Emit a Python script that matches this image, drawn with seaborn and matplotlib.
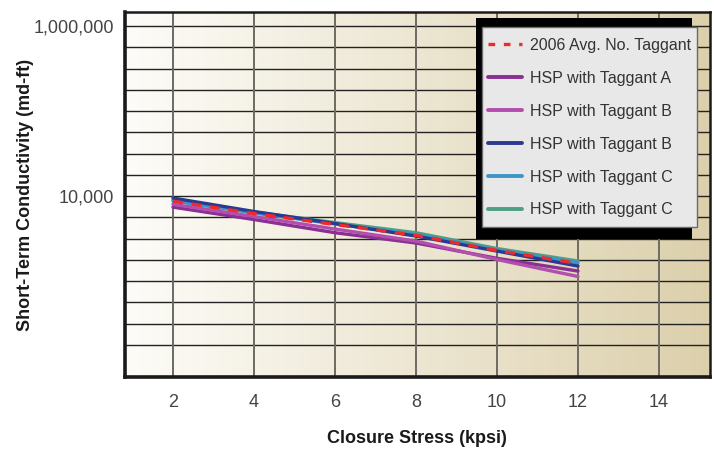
import numpy as np
import pandas as pd
import matplotlib.pyplot as plt
import matplotlib.patches as mpatches
from matplotlib.lines import Line2D
import seaborn as sns

# closure stress (kpsi)
stress = [2, 4, 6, 8, 10, 12]

# short-term conductivity (md-ft)
avg_2006 = [8700, 6220, 4620, 3450, 2290, 1610]
taggant_a = [7400, 5290, 3700, 2800, 1850, 1310]
taggant_b1 = [8000, 5740, 4090, 2950, 1790, 1130]
taggant_b2 = [9470, 6580, 4750, 3380, 2250, 1500]
taggant_c1 = [8730, 6310, 4690, 3520, 2320, 1640]
taggant_c2 = [8970, 6490, 4870, 3700, 2410, 1720]

labels = ["2006 Avg. No. Taggant", "HSP with Taggant A", "HSP with Taggant B",
          "HSP with Taggant B", "HSP with Taggant C", "HSP with Taggant C"]
colors = ["#ee2a2a", "#8a2f94", "#b24fae", "#2b3990", "#3d94c9", "#4e9f86"]

x_ticks = [2, 4, 6, 8, 10, 12, 14]
y_labels = {4.0: "10,000", 6.0: "1,000,000"}

sns.set_style("white")
plt.rcParams['font.family'] = ['Liberation Sans', 'DejaVu Sans']

fig = plt.figure(figsize=(7.15, 4.54), dpi=100)
ax = fig.add_axes([125/715, 1-377/454, 585/715, 365/454])

# background gradient white -> tan
grad = np.linspace(0, 1, 256)
c0 = np.array([253, 252, 248]) / 255
c1 = np.array([220, 208, 172]) / 255
img = c0[None, :] + (c1 - c0)[None, :] * grad[:, None]
ax.imshow(img[None, :, :], extent=[0, 1, 0, 1], transform=ax.transAxes,
          aspect='auto', zorder=0)

series = [avg_2006, taggant_a, taggant_b1, taggant_b2, taggant_c1, taggant_c2]
order = [5, 4, 3, 1, 2, 0]  # draw dashed average last
for i in order:
    df = pd.DataFrame({"stress": stress, "cond": series[i]})
    if i == 0:
        sns.lineplot(data=df, x="stress", y="cond", ax=ax, color=colors[i],
                     lw=2.4, linestyle=(0, (3, 2.6)), zorder=5)
    else:
        sns.lineplot(data=df, x="stress", y="cond", ax=ax, color=colors[i],
                     lw=2.4, zorder=4)

ax.set_yscale("log")
ax.set_xlim(0.815, 15.26)
ax.set_ylim(10**1.871, 10**6.165)

grid_exp = np.arange(2.25, 6.01, 0.25)
ax.set_yticks(10**grid_exp)
ax.set_yticklabels([y_labels.get(round(e, 2), "") for e in grid_exp])
ax.minorticks_off()
ax.set_xticks(x_ticks)
ax.set_xticklabels([str(t) for t in x_ticks])

for e in grid_exp:
    ax.axhline(10**e, color="#222222", lw=1.0, zorder=2)
for t in x_ticks:
    ax.axvline(t, color="#6e6a62", lw=1.4, zorder=2)

ax.tick_params(axis="both", length=0, labelsize=13, labelcolor="#444444")
ax.tick_params(axis="x", pad=12)
ax.tick_params(axis="y", pad=8)
for s in ax.spines.values():
    s.set_visible(True)
    s.set_color("#1a1a1a")
    s.set_linewidth(1.8)
ax.spines["left"].set_linewidth(2.6)
ax.spines["bottom"].set_linewidth(2.6)

ax.set_xlabel("Closure Stress (kpsi)", fontsize=13, fontweight="bold", color="#1a1a1a")
ax.set_ylabel("Short-Term Conductivity (md-ft)", fontsize=13, fontweight="bold", color="#1a1a1a")
ax.xaxis.set_label_coords(0.499, -0.145)
ax.yaxis.set_label_coords(-0.155, 0.5)

# legend box with black shadow
W, H = 715, 454
fig.patches.append(mpatches.Rectangle((476/W, 1-239/H), (692-476)/W, (239-18)/H,
                                      transform=fig.transFigure, facecolor="black",
                                      edgecolor="none", zorder=10))
fig.patches.append(mpatches.Rectangle((482/W, 1-227/H), (697-482)/W, (227-27)/H,
                                      transform=fig.transFigure, facecolor="#e8e8e8",
                                      edgecolor="#6a6a6a", lw=1.0, zorder=11))
handles = []
for i in range(6):
    if i == 0:
        handles.append(Line2D([], [], color=colors[i], lw=2.4, linestyle=(0, (2, 2.6))))
    else:
        handles.append(Line2D([], [], color=colors[i], lw=2.8))
leg = fig.legend(handles, labels, loc="upper left", bbox_to_anchor=(488/W, 1-38/H),
                 frameon=False, fontsize=11.5, handlelength=2.1, handletextpad=0.55,
                 labelspacing=1.12, borderpad=0, borderaxespad=0)
leg.set_zorder(12)
for t in leg.get_texts():
    t.set_color("#333333")

fig.savefig("out.png", dpi=100)
